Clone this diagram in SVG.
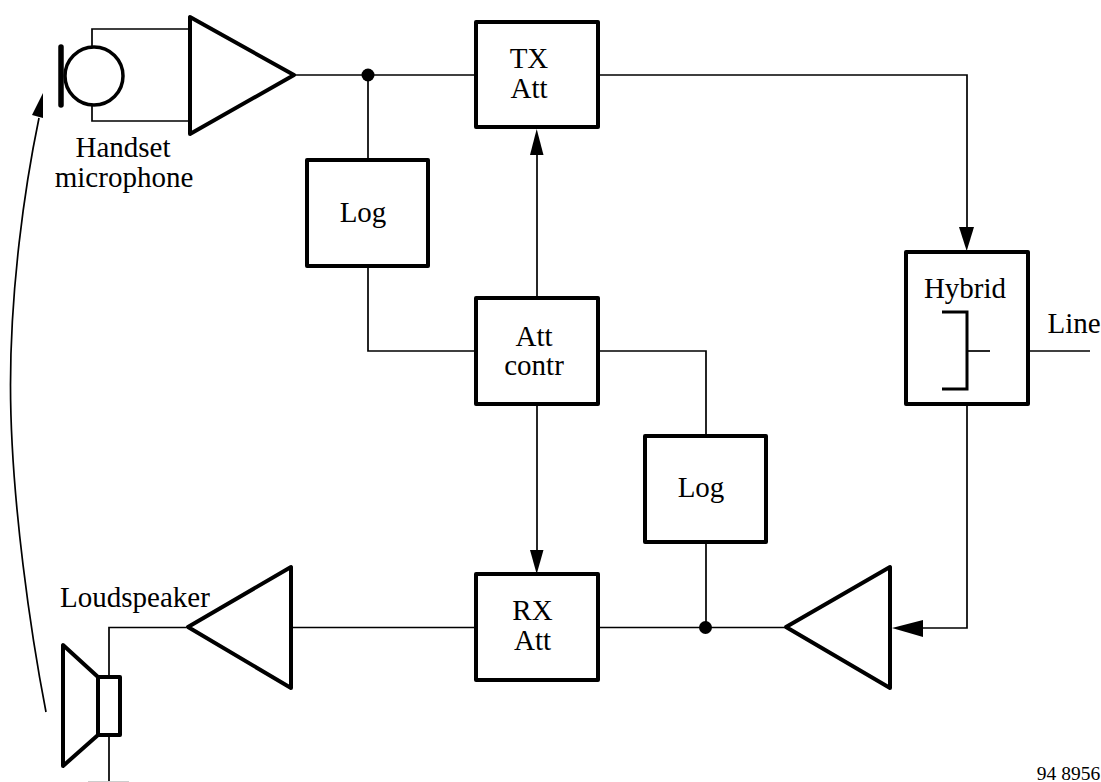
<svg xmlns="http://www.w3.org/2000/svg" width="1101" height="782" viewBox="0 0 1101 782">
<style>
text{font-family:"Liberation Serif","Times New Roman",serif;font-size:29px;fill:#000;text-anchor:middle}
.b{fill:#fff;stroke:#000;stroke-width:4;stroke-linejoin:round}
.t{fill:none;stroke:#000;stroke-width:4;stroke-linejoin:round;stroke-linecap:round}
.w{fill:none;stroke:#000;stroke-width:1.7}
.a{fill:#000;stroke:none}
</style>
<rect width="1101" height="782" fill="#fff"/>
<g id="connectors">
<path class="w" d="M92 46V29H190M92 106V121H190"/>
<path class="w" d="M294 75H476"/>
<path class="w" d="M368 75V160M368 266V351H476"/>
<path class="w" d="M537 298V155"/>
<path class="w" d="M598 75H967V228"/>
<path class="w" d="M598 351H706V436M706 542V628"/>
<path class="w" d="M537 404V550"/>
<path class="w" d="M293 627.5H476M598 627.5H786"/>
<path class="w" d="M967 404V628H922"/>
<path class="w" d="M1028 351H1090"/>
<path class="w" d="M186 627.5H109V677M109 735V782"/>
<path class="w" d="M46 712C32 640 10.500 500 10.500 385C10.500 290 24 190 39 118"/>
<path class="a" d="M43 93L32 115L43 118Z"/>
<path class="a" d="M536.700 129L530 155H543.500Z"/>
<path class="a" d="M966.700 251L959 227H974Z"/>
<path class="a" d="M536.700 574L530 550H543.500Z"/>
<path class="a" d="M892 628L923 620V637Z"/>
<circle class="a" cx="368" cy="75" r="6.500"/>
<circle class="a" cx="705.500" cy="627.500" r="6.500"/>
</g>
<g id="mic"><circle cx="94" cy="76" r="29" fill="#fff" stroke="#000" stroke-width="3.500"/><path d="M61 47V105" fill="none" stroke="#000" stroke-width="5.500" stroke-linecap="round"/></g>
<g id="handset-label"><text x="123" y="157">Handset</text><text x="124" y="187">microphone</text></g>
<g id="tx-amp"><path class="t" d="M190 17V134L294 75Z"/></g>
<g id="tx-att"><rect class="b" x="476" y="22" width="122" height="105"/><text x="529" y="68">TX</text><text x="529" y="98">Att</text></g>
<g id="log1"><rect class="b" x="307" y="160" width="121" height="106"/><text x="363" y="222">Log</text></g>
<g id="att-contr"><rect class="b" x="476" y="298" width="122" height="106"/><text x="534" y="346">Att</text><text x="534" y="375">contr</text></g>
<g id="log2"><rect class="b" x="645" y="436" width="121" height="106"/><text x="701" y="497">Log</text></g>
<g id="rx-att"><rect class="b" x="476" y="574" width="122" height="106"/><text x="532.500" y="620">RX</text><text x="532.500" y="650">Att</text></g>
<g id="hybrid"><rect class="b" x="906" y="252" width="122" height="152"/><text x="965" y="298">Hybrid</text><path d="M942 312H967V389H942" fill="none" stroke="#000" stroke-width="3"/><path class="w" d="M967 351H990"/></g>
<g id="line-label"><text x="1074" y="333">Line</text></g>
<g id="rx-amp"><path class="t" d="M890 567V688L786 627Z"/></g>
<g id="lsp-amp"><path class="t" d="M291 567V688L188 627Z"/></g>
<g id="loudspeaker"><path class="t" d="M98 677L63 645V766L98 735"/><rect class="b" x="98" y="677" width="22" height="58"/></g>
<g id="loudspeaker-label"><text x="135" y="607">Loudspeaker</text></g>
<g id="ref"><text x="1068.500" y="780" style="font-size:19.500px">94 8956</text></g>
<rect x="88" y="781" width="41" height="1" fill="#ccc"/>
</svg>
